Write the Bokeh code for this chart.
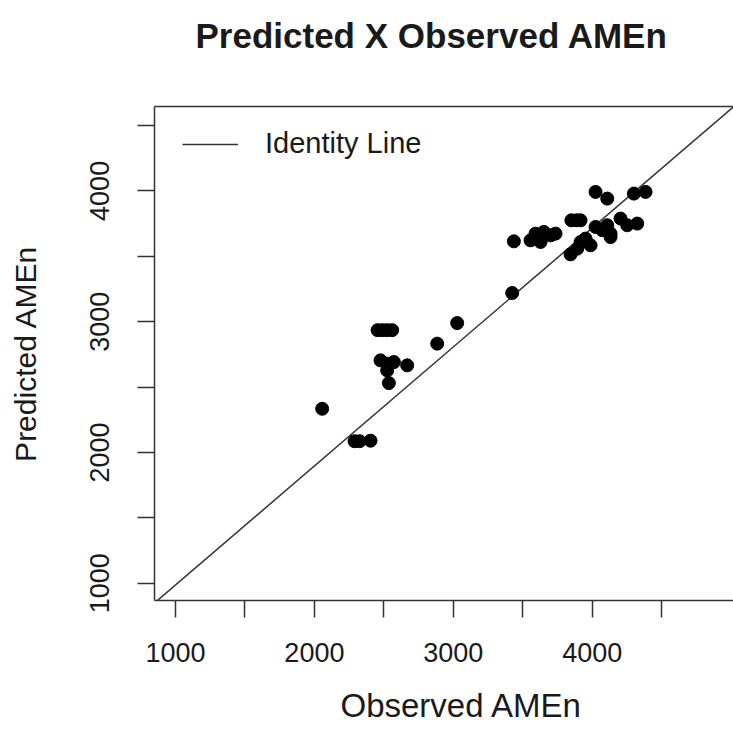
import math
from bokeh.plotting import figure
from bokeh.models import FixedTicker, LinearAxis, Legend, LegendItem, Range1d, Title
from bokeh.embed import file_html
from bokeh.resources import INLINE

# ---- data ----
observed = [2056, 2289, 2325, 2404, 2536, 2476, 2524, 2572, 2524, 2668,
            2455, 2490, 2525, 2560, 2884, 3028,
            3424, 3436, 3556, 3592, 3652, 3628, 3700, 3736, 3850, 3890,
            3916, 3844, 3892, 3916, 3952, 3988, 4024, 4108, 4024, 4108,
            4132, 4132, 4204, 4252, 4324, 4300, 4384, 4072, 3940]
predicted = [2334, 2086, 2086, 2090, 2530, 2704, 2679, 2691, 2627, 2666,
             2935, 2935, 2935, 2935, 2832, 2989,
             3219, 3614, 3622, 3673, 3686, 3609, 3660, 3673, 3775, 3775,
             3775, 3515, 3558, 3609, 3635, 3584, 3992, 3941, 3724, 3737,
             3673, 3647, 3788, 3737, 3750, 3979, 3992, 3700, 3622]
identity_x = [850, 5040]
identity_y = [850, 4663]
tick_values = [1000, 1500, 2000, 2500, 3000, 3500, 4000, 4500]
tick_labels = ["1000", "", "2000", "", "3000", "", "4000", ""]

FONT = "Liberation Sans"
INK = "#1a1a1a"

p = figure(width=733, height=747, output_backend="svg", toolbar_location=None,
           x_range=Range1d(849, 5017), y_range=Range1d(868, 4645),
           min_border_left=154, min_border_right=0, min_border_top=106,
           min_border_bottom=147, y_axis_label="Predicted AMEn", title=None)
p.background_fill_color = "white"
p.border_fill_color = "white"
p.outline_line_color = None
p.xgrid.visible = False
p.ygrid.visible = False

overrides = {v: l for v, l in zip(tick_values, tick_labels)}
for ax in (p.xaxis[0], p.yaxis[0]):
    ax.ticker = FixedTicker(ticks=tick_values)
    ax.major_label_overrides = overrides
    ax.major_tick_out = 17
    ax.major_tick_in = 0
    ax.minor_tick_line_color = None
    ax.axis_line_color = "#333333"
    ax.axis_line_width = 1.5
    ax.major_tick_line_color = "#333333"
    ax.major_tick_line_width = 1.5
    ax.major_label_text_font = FONT
    ax.major_label_text_font_size = "27px"
    ax.major_label_text_color = INK
    ax.axis_label_text_font = FONT
    ax.axis_label_text_font_size = "30px"
    ax.axis_label_text_font_style = "normal"
    ax.axis_label_text_color = INK

p.xaxis[0].major_label_standoff = 25
p.yaxis[0].major_label_orientation = "parallel"
p.yaxis[0].major_label_standoff = 28
p.yaxis[0].axis_label_standoff = 46

# top border of the box
top = LinearAxis(ticker=FixedTicker(ticks=[]), axis_line_color="#333333",
                 axis_line_width=1.5, major_tick_line_color=None,
                 minor_tick_line_color=None, major_label_text_font_size="0px")
p.add_layout(top, "above")

# spacer between the box and the main title
p.add_layout(Title(text=" ", text_font_size="1px", standoff=44), "above")
p.add_layout(Title(text="Predicted X Observed AMEn", text_font=FONT,
                   text_font_size="35px", text_font_style="bold",
                   text_color=INK, align="left", offset=41, standoff=10),
             "above")

# x-axis title (the reference's plot region runs past the page edge,
# so its label is centred further right than the visible box)
p.add_layout(Title(text="Observed AMEn", text_font=FONT, text_font_size="33px",
                   text_font_style="normal", text_color=INK, align="left",
                   offset=186, standoff=40), "below")

line = p.line(identity_x, identity_y, line_color="#333333", line_width=1.5)
p.scatter(observed, predicted, size=13, fill_color="black", line_color="black")

legend = Legend(items=[LegendItem(label="Identity Line", renderers=[line])],
                location=(28, 440), margin=0, padding=0,
                border_line_color=None, background_fill_alpha=0,
                glyph_width=56, glyph_height=20, label_standoff=27,
                label_text_font=FONT, label_text_font_size="29px",
                label_text_color=INK)
p.add_layout(legend, "center")

open("out.html", "w").write(file_html(p, INLINE))
